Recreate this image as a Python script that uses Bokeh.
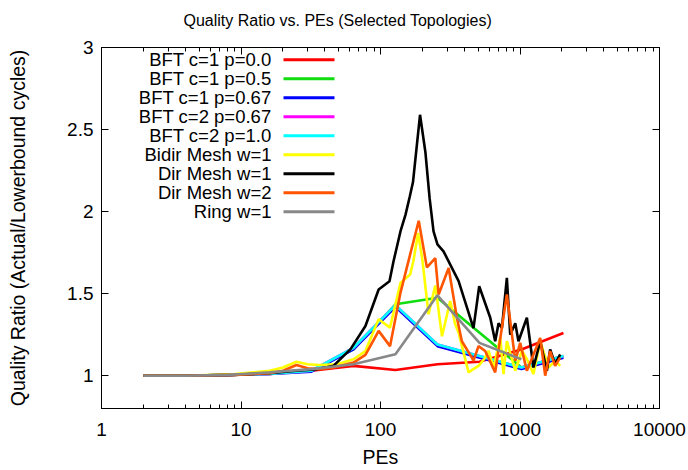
from bokeh.plotting import figure
from bokeh.models import (Range1d, FixedTicker, CustomJSTickFormatter, LogAxis, LinearAxis,
                          Label, BoxAnnotation)
from bokeh.embed import file_html
from bokeh.resources import INLINE

FONT = "Liberation Sans"

title_text = "Quality Ratio vs. PEs (Selected Topologies)"
x_label = "PEs"
y_label = "Quality Ratio (Actual/Lowerbound cycles)"

x_ticks = [1, 10, 100, 1000, 10000]
x_tick_labels = ["1", "10", "100", "1000", "10000"]
x_minor = [2, 3, 4, 5, 6, 7, 8, 9, 20, 30, 40, 50, 60, 70, 80, 90,
           200, 300, 400, 500, 600, 700, 800, 900, 2000, 3000, 4000, 5000, 6000, 7000, 8000, 9000]
y_ticks = [1, 1.5, 2, 2.5, 3]
y_tick_labels = ["1", "1.5", "2", "2.5", "3"]

names = ["BFT c=1 p=0.0", "BFT c=1 p=0.5", "BFT c=1 p=0.67", "BFT c=2 p=0.67",
         "BFT c=2 p=1.0", "Bidir Mesh w=1", "Dir Mesh w=1", "Dir Mesh w=2", "Ring w=1"]
colors = ["#ff0000", "#11dd11", "#0000ff", "#ff00ff", "#00ffff", "#ffff00",
          "#000000", "#ff5500", "#888888"]

# BFT c=1 p=0.0
x_red = [2, 4, 8, 16, 32, 64, 128, 256, 512, 1024, 2048]
y_red = [1.0, 1.0, 1.005, 1.01, 1.03, 1.06, 1.035, 1.07, 1.085, 1.16, 1.26]
# BFT c=1 p=0.5
x_green = [2, 4, 8, 16, 32, 64, 128, 256, 1024, 2048]
y_green = [1.0, 1.0, 1.005, 1.015, 1.03, 1.16, 1.435, 1.475, 1.05, 1.12]
# BFT c=1 p=0.67
x_blue = [2, 4, 8, 16, 32, 64, 128, 256, 1024, 2048]
y_blue = [1.0, 1.0, 1.005, 1.01, 1.025, 1.16, 1.42, 1.18, 1.04, 1.11]
# BFT c=2 p=0.67
x_magenta = [2, 4, 8, 16, 32, 64, 128, 256, 1024, 2048]
y_magenta = [1.0, 1.0, 1.005, 1.01, 1.03, 1.17, 1.43, 1.19, 1.05, 1.12]
# BFT c=2 p=1.0
x_cyan = [2, 4, 8, 16, 32, 64, 128, 256, 1024, 2048]
y_cyan = [1.0, 1.0, 1.005, 1.01, 1.03, 1.17, 1.43, 1.19, 1.05, 1.12]
# Bidir Mesh w=1
x_yellow = [2, 4, 9, 16, 20, 25, 30, 36, 49, 64, 78, 97, 117, 139, 163, 172, 186, 200, 221,
            247, 276, 316, 343, 363, 428, 462, 504, 552, 595, 646, 722, 762, 805, 925, 1032,
            1122, 1249, 1396, 1600, 1786, 1941]
y_yellow = [1.0, 1.0, 1.01, 1.03, 1.05, 1.085, 1.07, 1.065, 1.07, 1.10, 1.15, 1.344, 1.293,
            1.565, 1.616, 1.697, 1.87, 1.70, 1.374, 1.55, 1.24, 1.455, 1.313, 1.262, 1.02,
            1.04, 1.06, 1.10, 1.152, 1.05, 1.232, 1.01, 1.21, 1.03, 1.152, 1.10, 1.01,
            1.21, 1.05, 1.09, 1.06]
# Dir Mesh w=1
x_black = [2, 4, 9, 16, 25, 36, 46, 61, 78, 97, 116, 124, 139, 151, 162, 171, 192, 210, 225,
           240, 256, 283, 363, 464, 510, 612, 664, 702, 742, 805, 851, 925, 975, 1120, 1249,
           1396, 1559, 1645, 1786, 1941]
y_black = [1.0, 1.0, 1.005, 1.015, 1.03, 1.04, 1.06, 1.162, 1.303, 1.525, 1.576, 1.697,
           1.879, 1.98, 2.09, 2.18, 2.59, 2.36, 2.08, 1.88, 1.80, 1.758, 1.576, 1.29, 1.545,
           1.353, 1.21, 1.32, 1.29, 1.596, 1.25, 1.32, 1.21, 1.353, 1.05, 1.21, 1.03, 1.16,
           1.07, 1.13]
# Dir Mesh w=2
x_orange = [2, 4, 9, 16, 20, 25, 30, 36, 46, 64, 78, 97, 117, 139, 163, 188, 215, 247, 261,
            308, 353, 383, 452, 464, 504, 563, 664, 805, 925, 1003, 1120, 1396, 1516, 1645,
            1786, 1941]
y_orange = [1.0, 1.0, 1.005, 1.015, 1.03, 1.065, 1.045, 1.04, 1.05, 1.08, 1.127, 1.273,
            1.18, 1.505, 1.738, 1.944, 1.66, 1.717, 1.495, 1.656, 1.353, 1.21, 1.11, 1.09,
            1.18, 1.15, 1.02, 1.495, 1.09, 1.20, 1.03, 1.23, 1.0, 1.15, 1.06, 1.11]
# Ring w=1
x_gray = [2, 4, 8, 16, 32, 64, 128, 256, 512, 1024]
y_gray = [1.0, 1.0, 1.005, 1.02, 1.04, 1.07, 1.13, 1.49, 1.20, 1.10]

series_x = [x_red, x_green, x_blue, x_magenta, x_cyan, x_yellow, x_black, x_orange, x_gray]
series_y = [y_red, y_green, y_blue, y_magenta, y_cyan, y_yellow, y_black, y_orange, y_gray]

LEFT, RIGHT, TOP, BOTTOM = 101, 29, 47, 60
W, H = 688, 470
p = figure(width=W, height=H, x_axis_type="log",
           x_range=Range1d(1, 10000), y_range=Range1d(0.8, 3),
           output_backend="svg", toolbar_location=None,
           min_border_left=LEFT, min_border_right=RIGHT,
           min_border_top=TOP, min_border_bottom=BOTTOM)
p.background_fill_color = "white"
p.border_fill_color = "white"
p.outline_line_color = "black"
p.outline_line_width = 1
p.grid.visible = False

p.title.text = title_text
p.title.align = "left"
p.title.offset = 82
p.title.standoff = 14
p.title.text_font = FONT
p.title.text_font_size = "16px"
p.title.text_font_style = "normal"
p.title.text_color = "black"

x_fmt = CustomJSTickFormatter(args=dict(vals=x_ticks, labs=x_tick_labels), code="""
const i = vals.findIndex(v => Math.abs(v - tick) < 1e-6 * v);
return i >= 0 ? labs[i] : String(tick);
""")
y_fmt = CustomJSTickFormatter(args=dict(vals=y_ticks, labs=y_tick_labels), code="""
const i = vals.findIndex(v => Math.abs(v - tick) < 1e-6);
return i >= 0 ? labs[i] : String(tick);
""")
blank = CustomJSTickFormatter(code="return '';")


def style_axis(ax):
    ax.axis_line_color = "black"
    ax.major_tick_line_color = "black"
    ax.minor_tick_line_color = "black"
    ax.major_tick_in = 7
    ax.major_tick_out = 0
    ax.minor_tick_in = 4
    ax.minor_tick_out = 0
    ax.major_label_text_font = FONT
    ax.major_label_text_font_size = "19px"
    ax.major_label_text_color = "black"
    ax.axis_label_text_font = FONT
    ax.axis_label_text_font_size = "19.5px"
    ax.axis_label_text_font_style = "normal"
    ax.axis_label_text_color = "black"


xax = p.xaxis[0]
xax.ticker = FixedTicker(ticks=x_ticks, minor_ticks=x_minor)
xax.formatter = x_fmt
xax.axis_label = x_label
style_axis(xax)
xax.major_label_standoff = 14
xax.axis_label_standoff = 7

yax = p.yaxis[0]
yax.ticker = FixedTicker(ticks=y_ticks, minor_ticks=[])
yax.formatter = y_fmt
yax.axis_label = y_label
style_axis(yax)
yax.major_label_standoff = 8
yax.axis_label_standoff = 35

top_ax = LogAxis(ticker=FixedTicker(ticks=x_ticks, minor_ticks=x_minor), formatter=blank)
style_axis(top_ax)
top_ax.major_label_standoff = 0
p.add_layout(top_ax, "above")

# invisible spacer between the mirrored top ticks and the title
spacer = LogAxis(ticker=FixedTicker(ticks=x_ticks, minor_ticks=[]), formatter=blank)
spacer.axis_line_color = None
spacer.major_tick_line_color = None
spacer.minor_tick_line_color = None
spacer.major_tick_in = 0
spacer.major_tick_out = 12
spacer.minor_tick_in = 0
spacer.minor_tick_out = 0
spacer.major_label_standoff = 0
p.add_layout(spacer, "above")

right_ax = LinearAxis(ticker=FixedTicker(ticks=y_ticks, minor_ticks=[]), formatter=blank)
style_axis(right_ax)
right_ax.major_label_standoff = 0
p.add_layout(right_ax, "right")

for xs, ys, c in zip(series_x, series_y, colors):
    p.line(xs, ys, line_color=c, line_width=2.6)

# gnuplot-style key: right-aligned text, sample line to its right
frame_h = H - TOP - BOTTOM
for i, (name, c) in enumerate(zip(names, colors)):
    yc = 61.3 + 19 * i - TOP          # distance below frame top
    fy = frame_h - yc                 # frame coords, y up
    p.add_layout(Label(x=170, y=fy, x_units="screen", y_units="screen", text=name,
                       text_align="right", text_baseline="middle", text_font=FONT,
                       text_font_size="18.5px", text_color="black"))
    p.add_layout(BoxAnnotation(left=182, right=233, top=fy + 1.5, bottom=fy - 1.5,
                               left_units="screen", right_units="screen",
                               top_units="screen", bottom_units="screen",
                               fill_color=c, fill_alpha=1.0, line_color=None))

open("out.html", "w").write(file_html(p, INLINE))
